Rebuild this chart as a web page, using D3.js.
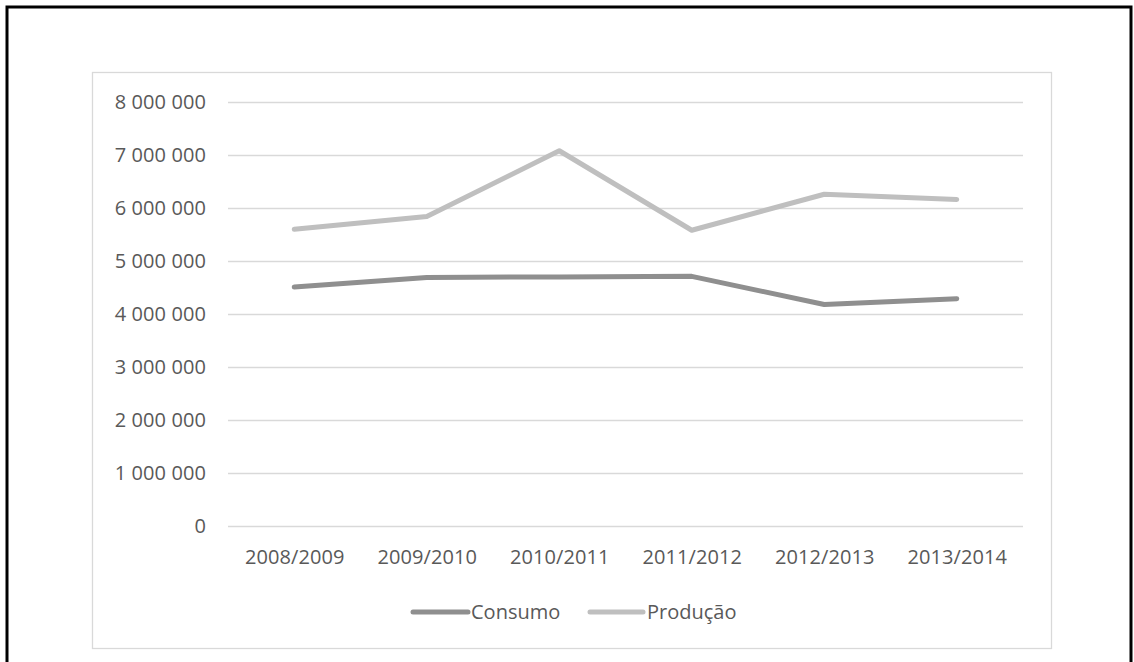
<!DOCTYPE html>
<html>
<head>
<meta charset="utf-8">
<script src="https://cdn.jsdelivr.net/npm/d3@7"></script>
<style>
  html, body { margin: 0; padding: 0; background: #fff; }
  svg { display: block; }
  text { font-family: "Open Sans", "Noto Sans", sans-serif; fill: #595959; }
</style>
</head>
<body>
<svg id="chart" width="1134" height="662"></svg>
<script>
// Safras (campanhas agrícolas)
const categories = ["2008/2009", "2009/2010", "2010/2011", "2011/2012", "2012/2013", "2013/2014"];
// Consumo e produção por safra
const consumo  = [4510000, 4690000, 4700000, 4710000, 4180000, 4290000];
const producao = [5600000, 5840000, 7080000, 5580000, 6260000, 6160000];
const yTicks = [0, 1000000, 2000000, 3000000, 4000000, 5000000, 6000000, 7000000, 8000000];
const seriesNames = ["Consumo", "Produção"];
const seriesColors = ["#8f8f8f", "#bfbfbf"];

const svg = d3.select("#chart");

// Moldura externa
svg.append("path")
  .attr("d", "M7,662 L7,7 L1131,7 L1131,662")
  .attr("fill", "none").attr("stroke", "#000").attr("stroke-width", 3);

// Área do gráfico
svg.append("rect")
  .attr("x", 92.5).attr("y", 72.5).attr("width", 959).attr("height", 576)
  .attr("fill", "#fff").attr("stroke", "#d9d9d9").attr("stroke-width", 1.3);

const plot = { left: 228, right: 1023, top: 102, bottom: 526 };

const x = d3.scalePoint().domain(categories)
  .range([plot.left, plot.right]).padding(0.5);
const y = d3.scaleLinear().domain([0, 8000000]).range([plot.bottom, plot.top]);

const fmt = v => d3.format(",")(v).replace(/,/g, " ");
const labelFont = "'Open Sans', 'Noto Sans', sans-serif";

// Linhas de grade
svg.append("g").selectAll("line").data(yTicks).join("line")
  .attr("x1", plot.left).attr("x2", plot.right)
  .attr("y1", d => Math.round(y(d)) + 0.5).attr("y2", d => Math.round(y(d)) + 0.5)
  .attr("stroke", "#d9d9d9").attr("stroke-width", 1.3);

// Eixo Y
const yAxis = svg.append("g")
  .attr("transform", `translate(${plot.left},0)`)
  .call(d3.axisLeft(y).tickValues(yTicks).tickFormat(fmt).tickSize(0).tickPadding(22));
yAxis.select(".domain").remove();
yAxis.selectAll("text")
  .attr("font-size", 20).attr("fill", "#595959")
  .style("letter-spacing", "0.1px")
  .style("font-family", labelFont);

// Eixo X
const xAxis = svg.append("g")
  .attr("transform", `translate(0,${plot.bottom})`)
  .call(d3.axisBottom(x).tickSize(0).tickPadding(24));
xAxis.select(".domain").remove();
xAxis.selectAll("text")
  .attr("font-size", 20).attr("fill", "#595959")
  .style("letter-spacing", "0.1px")
  .style("font-family", labelFont);

// Séries
const line = d3.line().x((d, i) => x(categories[i])).y(d => y(d));
[consumo, producao].forEach((vals, k) => {
  svg.append("path")
    .datum(vals)
    .attr("d", line)
    .attr("fill", "none")
    .attr("stroke", seriesColors[k])
    .attr("stroke-width", 5)
    .attr("stroke-linecap", "round")
    .attr("stroke-linejoin", "round");
});

// Legenda
const legendY = 612;
const legendItems = [
  { name: seriesNames[0], color: seriesColors[0], x0: 413, x1: 468, tx: 471 },
  { name: seriesNames[1], color: seriesColors[1], x0: 590, x1: 643, tx: 647 }
];
const lg = svg.append("g");
legendItems.forEach(it => {
  lg.append("line")
    .attr("x1", it.x0).attr("x2", it.x1).attr("y1", legendY).attr("y2", legendY)
    .attr("stroke", it.color).attr("stroke-width", 5).attr("stroke-linecap", "round");
  lg.append("text")
    .attr("x", it.tx).attr("y", legendY).attr("dy", "0.35em")
    .attr("font-size", 20)
    .text(it.name);
});
</script>
</body>
</html>
